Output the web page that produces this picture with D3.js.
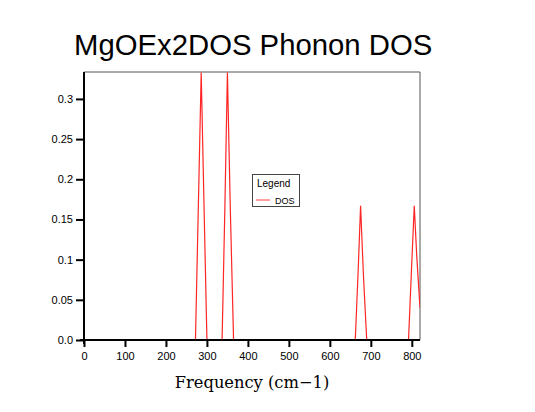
<!DOCTYPE html>
<html><head><meta charset="utf-8">
<script src="https://cdn.jsdelivr.net/npm/d3@7"></script>
<style>body{margin:0;background:#fff}</style>
</head><body>
<script>
const freq = [0, 272, 279, 286, 293, 300, 337, 344, 350, 357, 365, 662, 669, 675, 682, 690, 792, 799, 806, 812, 820];
const dos  = [0, 0, 0.165, 0.333, 0.165, 0, 0, 0.17, 0.333, 0.165, 0, 0, 0.085, 0.167, 0.08, 0, 0, 0.085, 0.167, 0.105, 0.04];
const xTicks = [0, 100, 200, 300, 400, 500, 600, 700, 800];
const yTicks = [0, 0.05, 0.1, 0.15, 0.2, 0.25, 0.3];
const yTickLabels = ["0.0", "0.05", "0.1", "0.15", "0.2", "0.25", "0.3"];
const title = "MgOEx2DOS Phonon DOS";
const xLabel = "Frequency (cm\u22121)";
const seriesName = "DOS";

const W = 535, H = 412;
const L = 84, R = 420, T = 72, B = 340;
const svg = d3.select("body").append("svg").attr("width", W).attr("height", H);
const x = d3.scaleLinear().domain([0, 820]).range([L, R]);
const y = d3.scaleLinear().domain([0, 0.3335]).range([B, T]);

svg.append("text").attr("x", 74).attr("y", 55).attr("font-family", "Liberation Sans, Arial, sans-serif")
  .attr("font-size", 29.3).attr("fill", "#000").text(title);

svg.append("defs").append("clipPath").attr("id", "clip").append("rect")
  .attr("x", L).attr("y", T).attr("width", R - L).attr("height", B - T);

// frame top/right
svg.append("path").attr("d", `M${L},${T}H${R}V${B}`).attr("fill", "none").attr("stroke", "#555").attr("stroke-width", 1);

const line = d3.line().x((d, i) => x(freq[i])).y(d => y(d));
svg.append("path").datum(dos).attr("d", line).attr("fill", "none").attr("stroke", "#ff2525")
  .attr("stroke-width", 1.2).attr("clip-path", "url(#clip)");

const xAxis = d3.axisBottom(x).tickValues(xTicks).tickSize(7).tickPadding(5).tickFormat(d3.format("d"));
const gx = svg.append("g").attr("transform", `translate(0,${B})`).call(xAxis);
gx.select(".domain").attr("stroke", "#000").attr("stroke-width", 2).attr("d", `M${L - 4},0H${R}`);
gx.selectAll(".tick line").attr("stroke", "#000").attr("stroke-width", 2);
gx.selectAll("text").attr("font-family", "Liberation Sans, Arial, sans-serif").attr("font-size", 11).attr("fill", "#000");

const yAxis = d3.axisLeft(y).tickValues(yTicks).tickSize(8).tickPadding(3).tickFormat((d, i) => yTickLabels[i]);
const gy = svg.append("g").attr("transform", `translate(${L},0)`).call(yAxis);
gy.select(".domain").attr("stroke", "#000").attr("stroke-width", 2).attr("d", `M0,${T}V${B + 4}`);
gy.selectAll(".tick line").attr("stroke", "#000").attr("stroke-width", 2);
gy.selectAll("text").attr("font-family", "Liberation Sans, Arial, sans-serif").attr("font-size", 11).attr("fill", "#000");

svg.append("text").attr("x", 252).attr("y", 388).attr("text-anchor", "middle")
  .attr("font-family", "DejaVu Serif, serif").attr("font-size", 16.3).attr("fill", "#000").text(xLabel);

// legend
const lg = svg.append("g");
lg.append("rect").attr("x", 252.5).attr("y", 174.5).attr("width", 47).attr("height", 32)
  .attr("fill", "#fff").attr("stroke", "#444").attr("stroke-width", 1);
lg.append("text").attr("x", 257).attr("y", 187).attr("font-family", "Liberation Sans, Arial, sans-serif")
  .attr("font-size", 10).attr("fill", "#000").text("Legend");
lg.append("line").attr("x1", 256).attr("x2", 270).attr("y1", 200).attr("y2", 200).attr("stroke", "#ff4040").attr("stroke-width", 1);
lg.append("text").attr("x", 275).attr("y", 203.5).attr("font-family", "Liberation Sans, Arial, sans-serif")
  .attr("font-size", 9).attr("fill", "#000").text(seriesName);
</script>
</body></html>
